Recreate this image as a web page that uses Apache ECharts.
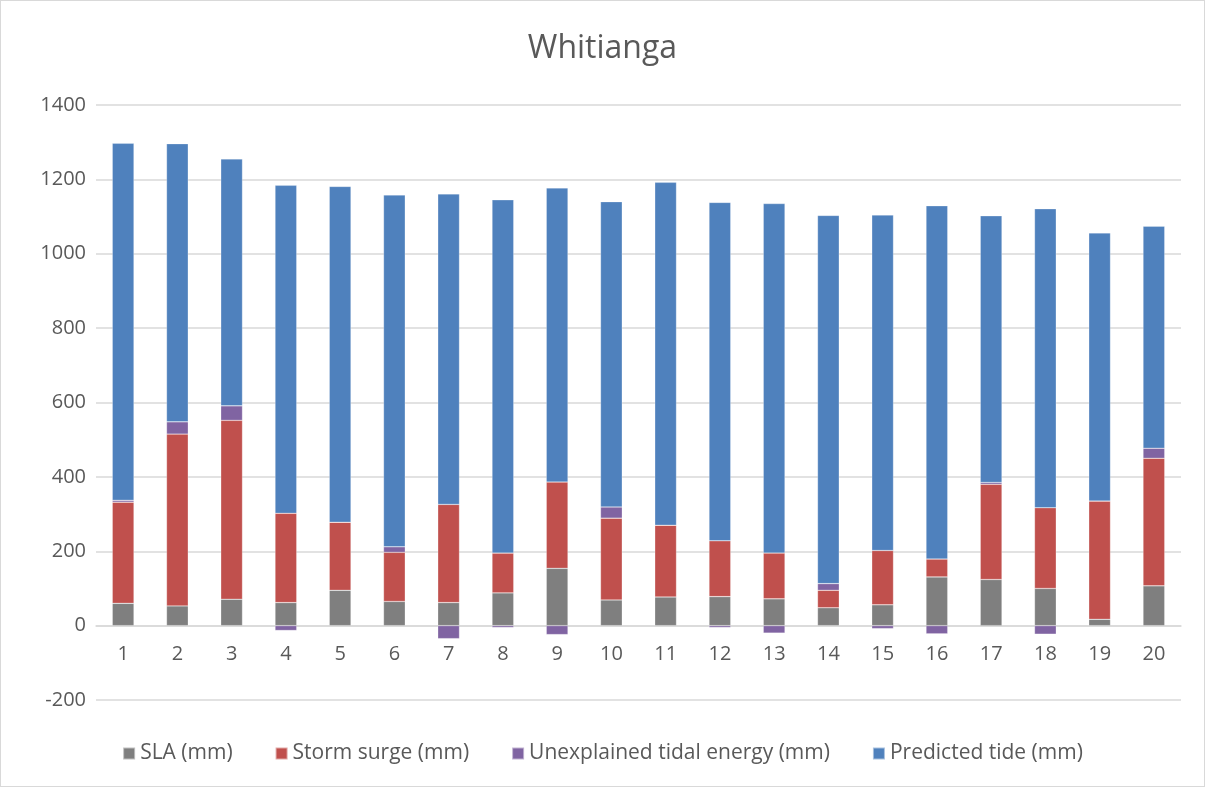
<!DOCTYPE html>
<html>
<head>
<meta charset="utf-8">
<script src="https://cdn.jsdelivr.net/npm/echarts@6/dist/echarts.min.js"></script>
<style>
  html, body { margin: 0; padding: 0; background: #fff; }
  #main { width: 1205px; height: 787px; box-sizing: border-box; border: 1px solid #d9d9d9; }
</style>
</head>
<body>
<div id="main"></div>
<script>
// data
var categories = ['1','2','3','4','5','6','7','8','9','10','11','12','13','14','15','16','17','18','19','20'];
var sla = [60, 53, 71, 62, 95, 65, 62, 88, 154, 69, 77, 78, 72, 48, 56, 131, 124, 100, 17, 107];
var stormSurge = [272, 462, 481, 240, 183, 132, 264, 107, 232, 220, 193, 150, 123, 47, 146, 48, 256, 217, 318, 343];
var unexplained = [5, 33, 39, -13, 0, 15, -35, -5, -24, 30, 0, -5, -20, 18, -8, -22, 5, -23, 0, 27];
var predictedTide = [960, 748, 664, 882, 903, 946, 835, 950, 791, 821, 922, 910, 940, 990, 902, 950, 717, 804, 721, 597];

var myChart = echarts.init(document.getElementById('main'));
var txt = '#595959';
var font = 'Open Sans';

function bar(name, data, color) {
  return {
    name: name,
    type: 'bar',
    stack: 'total',
    barCategoryGap: '60%',
    data: data,
    itemStyle: { color: color, borderColor: 'rgba(255,255,255,0.5)', borderWidth: 0.5 }
  };
}

var option = {
  animation: false,
  title: {
    text: 'Whitianga',
    left: 'center',
    top: 27,
    textStyle: { color: txt, fontSize: 32, fontWeight: 'normal', fontFamily: font }
  },
  legend: {
    bottom: 17,
    left: 'center',
    itemWidth: 12,
    itemHeight: 12,
    itemGap: 42,
    icon: 'rect',
    textStyle: { color: txt, fontSize: 21, fontFamily: font },
    data: ['SLA (mm)', 'Storm surge (mm)', 'Unexplained tidal energy (mm)', 'Predicted tide (mm)']
  },
  grid: { left: 95, right: 23, top: 104, bottom: 86 },
  xAxis: {
    type: 'category',
    data: categories,
    offset: -74.6,
    axisTick: { show: false },
    axisLine: { onZero: false, lineStyle: { color: '#d9d9d9', width: 1.5 } },
    axisLabel: { color: txt, fontSize: 20, fontFamily: font, margin: 19 }
  },
  yAxis: {
    type: 'value',
    min: -200,
    max: 1400,
    interval: 200,
    axisLine: { show: false },
    axisTick: { show: false },
    axisLabel: { color: txt, fontSize: 20, fontFamily: font, margin: 10, formatter: function (v) { return String(v); } },
    splitLine: { lineStyle: { color: '#d9d9d9', width: 1.5 } }
  },
  series: [
    bar('SLA (mm)', sla, '#7f7f7f'),
    bar('Storm surge (mm)', stormSurge, '#c0504d'),
    bar('Unexplained tidal energy (mm)', unexplained, '#8064a2'),
    bar('Predicted tide (mm)', predictedTide, '#4f81bd')
  ]
};
myChart.setOption(option);
</script>
</body>
</html>
